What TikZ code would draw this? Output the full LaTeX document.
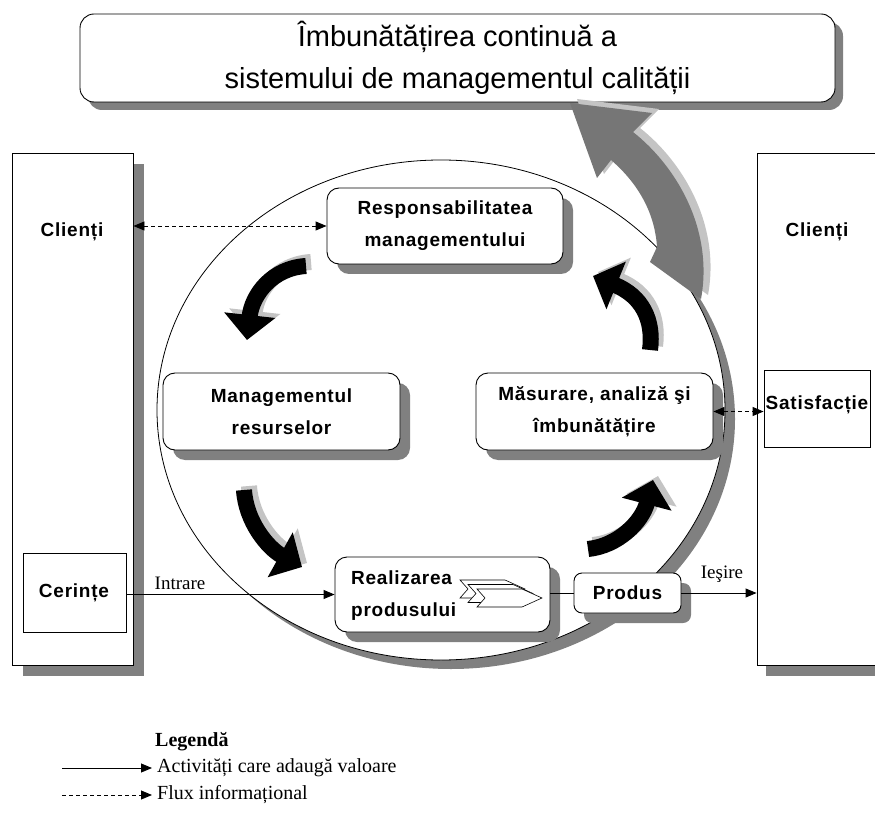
\documentclass[tikz,border=0pt]{standalone}
\usepackage{fontspec}
\setmainfont{Liberation Sans}
\newfontfamily\serifrm{Liberation Serif}
\usetikzlibrary{arrows.meta,shadows,shapes.geometric}
\definecolor{shd}{HTML}{808080}
\definecolor{bigg}{HTML}{767676}
\definecolor{lgr}{HTML}{C4C4C4}
\newcommand{\cvarrow}[4]{%
  \draw[blkarrow, lgr, shift={(5,-4)}] #1 .. controls #2 and #3 .. #4;
  \draw[blkarrow, black] #1 .. controls #2 and #3 .. #4;}
\newcommand{\chevr}[2]{%
  \draw[fill=white, line width=0.6pt, line join=miter] (#1,#2) -- ++(45,0) -- ++(20,9) -- ++(-20,9) -- ++(-45,0) -- ++(8,-9) -- cycle;}
\begin{document}
\begin{tikzpicture}[x=1pt,y=-1pt,
  shadowed/.style={drop shadow={shadow xshift=#1, shadow yshift=-#1, fill=shd, opacity=1}},
  rbox/.style={draw=black, line width=0.9pt, fill=white, rounded corners=12pt, shadowed=10pt},
  sbox/.style={draw=black, line width=0.9pt, fill=white, inner sep=0pt},
  btxt/.style={font=\fontsize{19}{32}\selectfont\bfseries\addfontfeatures{LetterSpace=4}, align=center, inner sep=0pt},
  stxt/.style={font=\fontsize{19}{22}\selectfont\serifrm, inner sep=0pt},
  ltxt/.style={font=\fontsize{20}{24}\selectfont\serifrm, inner sep=0pt, anchor=west},
  blkarrow/.style={line width=16pt, -{Triangle[width=50pt,length=25pt]}},
  conn/.style={line width=0.9pt, -{Triangle[length=11pt,width=9pt]}},
  dconn/.style={line width=0.9pt, dash pattern=on 4pt off 3pt, {Triangle[length=11pt,width=9pt]}-{Triangle[length=11pt,width=9pt]}}
]
\useasboundingbox (0,0) rectangle (875,818);

% central ellipse with shadow
\node[ellipse, draw=black, line width=0.8pt, fill=white, inner sep=0pt,
      minimum width=568pt, minimum height=500pt,
      drop shadow={shadow xshift=10pt, shadow yshift=-9pt, fill=shd, opacity=1}] (cyc) at (441,410) {};

% top box
\node[draw=black, line width=0.9pt, fill=white, rounded corners=14pt, shadowed=8pt,
      minimum width=755pt, minimum height=88pt, inner sep=0pt, align=center,
      font=\fontsize{29}{42}\selectfont] (top) at (457.5,58)
      {Îmbunătățirea continuă a\\sistemului de managementul calității};

% big grey arrow
\fill[lgr, shift={(7,-4)}] (650,262) -- (657,247) .. controls (655,215) and (640,185) .. (611,160)
  -- (597,178) -- (570,103) -- (652,113) -- (633,132) .. controls (675,165) and (714,228) .. (701,299) -- cycle;
\fill[bigg] (650,262) -- (657,247) .. controls (655,215) and (640,185) .. (611,160)
  -- (597,178) -- (570,103) -- (652,113) -- (633,132) .. controls (675,165) and (714,228) .. (701,299) -- cycle;

% client columns
\node[sbox, shadowed=11pt, minimum width=121pt, minimum height=512pt] (lcl) at (72.5,409) {};
\node[btxt] (lcltxt) at (72,232) {Clienți};
\node[sbox, minimum width=103pt, minimum height=79pt] (cer) at (74.5,592.5) {};
\node[btxt] (certxt) at (74,593) {Cerințe};

\node[sbox, drop shadow={shadow xshift=9pt, shadow yshift=-11pt, fill=shd, opacity=1},
      minimum width=123pt, minimum height=512pt] (rcl) at (818.5,409) {};
\node[btxt] (rcltxt) at (817,232) {Clienți};
\node[sbox, minimum width=106pt, minimum height=77pt] (sat) at (817,408.5) {};
\node[btxt] (sattxt) at (817,405) {Satisfacție};

% process boxes
\node[rbox, btxt, minimum width=236pt, minimum height=76pt] (resp) at (445,226) {Responsabilitatea\\managementului};
\node[rbox, btxt, minimum width=237pt, minimum height=77pt] (res) at (281.5,411.5) {Managementul\\resurselor};
\node[rbox, btxt, minimum width=237pt, minimum height=77pt] (mas) at (594.5,411.5) {Măsurare, analiză şi\\îmbunătățire};
\node[rbox, minimum width=215pt, minimum height=75pt, inner sep=0pt] (real) at (442.5,594.5) {};
\node[btxt, align=left, anchor=west] (realtxt) at (351,595.5) {Realizarea\\produsului};
\chevr{460}{580}
\chevr{468}{584.5}
\chevr{477}{589}
\node[rbox, btxt, rounded corners=8pt, minimum width=107pt, minimum height=40pt] (prod) at (627.5,593) {Produs};

% cycle arrows
\cvarrow{(306,266)}{(272,268)}{(252,295)}{(247,340)}
\cvarrow{(244,490)}{(246,522)}{(268,548)}{(302,567)}
\cvarrow{(588,549)}{(618,546)}{(642,522)}{(653,480)}
\cvarrow{(650,350)}{(654,320)}{(642,296)}{(593,276)}

% connectors
\draw[conn] (real.west -| cer.east) -- (real.west);
\node[stxt] (intr) at (180,583) {Intrare};
\draw[line width=0.9pt] (prod.west -| real.east) -- (prod.west);
\draw[conn] (prod.east) -- (prod.east -| rcl.west);
\node[stxt] (ies) at (722,574) {Ieşire};
\draw[dconn] (resp.west -| lcl.east) -- (resp.west);
\draw[dconn] (mas.east) -- (mas.east -| sat.west);

% legend
\node[ltxt, font=\fontsize{20}{24}\selectfont\serifrm\bfseries] (legt) at (155,742) {Legendă};
\node[ltxt] (leg1) at (157,768) {Activități care adaugă valoare};
\node[ltxt] (leg2) at (157,795) {Flux informațional};
\coordinate (l1a) at (62,768);
\coordinate (l2a) at (62,795);
\draw[conn] (l1a) -- ([xshift=-5pt]leg1.west);
\draw[conn, dash pattern=on 4pt off 3pt] (l2a) -- ([xshift=-5pt]leg2.west);
\end{tikzpicture}
\end{document}
